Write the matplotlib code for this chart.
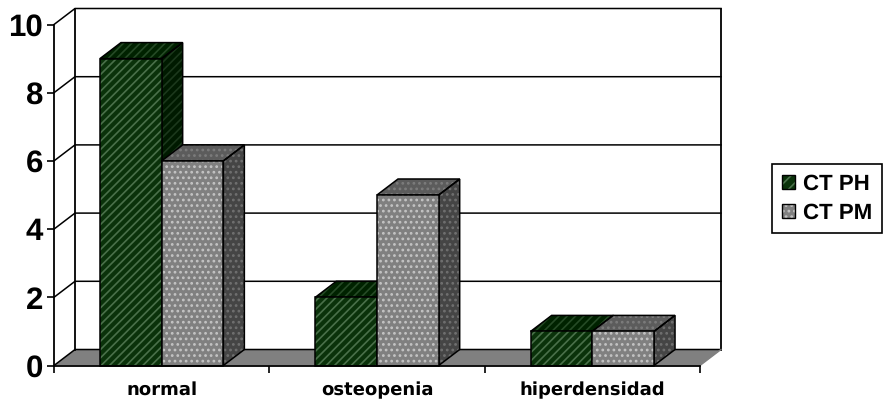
import matplotlib
matplotlib.use("Agg")
import matplotlib.pyplot as plt
from matplotlib.legend_handler import HandlerTuple
from matplotlib.patches import Patch, Polygon

categories = ["normal", "osteopenia", "hiperdensidad"]
ct_ph = [9, 2, 1]
ct_pm = [6, 5, 1]
series_names = ["CT PH", "CT PM"]
y_ticks = [0, 2, 4, 6, 8, 10]

plt.rcParams["font.family"] = ["Liberation Sans", "DejaVu Sans"]
plt.rcParams["font.weight"] = "bold"
plt.rcParams["hatch.linewidth"] = 1.2
plt.rcParams["text.hinting"] = "no_hinting"

W, H = 891, 405
fig = plt.figure(figsize=(W / 100, H / 100), dpi=100)
ax = fig.add_axes([54 / W, 1 - 365.5 / H, 646 / W, 341 / H])
ax.set_xlim(0, 3)
ax.set_ylim(0, 10)

# depth of the fake 3d box, in data units
dx = 21 / (646 / 3)
dy = 16 / 34.1
bar_w = 0.2865
margin = 0.2135

green = dict(front=("#0a320a", "#4a704a", "////"),
             side=("#001a00", "#1c381c", "////"),
             top=("#002200", "#264a26", "////"))
gray = dict(front=("#808080", "#c4c4c4", "..."),
            side=("#454545", "#707070", "..."),
            top=("#5c5c5c", "#7c7c7c", "..."))


def face(points, style, z):
    fc, hc, hatch = style
    ax.add_patch(Polygon(points, closed=True, facecolor=fc, edgecolor=hc, hatch=hatch,
                         linewidth=0, zorder=z, clip_on=False))
    ax.add_patch(Polygon(points, closed=True, fill=False, edgecolor="black",
                         linewidth=1.1, zorder=z + 0.1, clip_on=False))


def bar3d(x, v, style, z):
    face([(x + bar_w, 0), (x + bar_w + dx, dy), (x + bar_w + dx, v + dy), (x + bar_w, v)],
         style["side"], z)
    face([(x, v), (x + dx, v + dy), (x + bar_w + dx, v + dy), (x + bar_w, v)],
         style["top"], z)
    face([(x, 0), (x + bar_w, 0), (x + bar_w, v), (x, v)], style["front"], z + 0.2)


# floor
ax.add_patch(Polygon([(0, 0), (dx, dy), (3 + dx, dy), (3, 0)], closed=True,
                     facecolor="#808080", edgecolor="none", zorder=1, clip_on=False))

# back wall and left wall grid lines
for t in y_ticks:
    ax.plot([0, dx, 3 + dx], [t, t + dy, t + dy], color="black", lw=1.1, zorder=2,
            clip_on=False, solid_joinstyle="miter")
ax.plot([dx, dx], [dy, 10 + dy], color="black", lw=1.3, zorder=2, clip_on=False)
ax.plot([3 + dx, 3 + dx], [dy, 10 + dy], color="black", lw=1.3, zorder=2, clip_on=False)
ax.plot([3, 3 + dx], [0, dy], color="#808080", lw=1, zorder=2, clip_on=False)

for i in range(len(categories)):
    x = i + margin
    bar3d(x, ct_ph[i], green, 3 + i)
    bar3d(x + bar_w, ct_pm[i], gray, 3.4 + i)

for s in ["top", "right"]:
    ax.spines[s].set_visible(False)
for s in ["left", "bottom"]:
    ax.spines[s].set_linewidth(1.3)
    ax.spines[s].set_zorder(10)
ax.patch.set_visible(False)

ax.set_yticks(y_ticks)
ax.tick_params(axis="y", length=5, width=1.2, labelsize=22.5, pad=3)
ax.set_xticks([0, 1, 2, 3])
ax.set_xticklabels([])
ax.set_xticks([0.5, 1.5, 2.5], minor=True)
ax.set_xticklabels(categories, minor=True, fontsize=13, fontweight="bold",
                   family="DejaVu Sans")
ax.tick_params(axis="x", which="major", length=5, width=1.2)
ax.tick_params(axis="x", which="minor", length=0, pad=11.5)

handles = [(Patch(facecolor="#0a320a", edgecolor="#4a704a", hatch="///", linewidth=0),
            Patch(fill=False, edgecolor="black", linewidth=1)),
           (Patch(facecolor="#808080", edgecolor="#c4c4c4", hatch="...", linewidth=0),
            Patch(fill=False, edgecolor="black", linewidth=1))]
leg = fig.legend(handles, series_names, loc="upper left",
                 bbox_to_anchor=(772 / W, 1 - 164 / H), bbox_transform=fig.transFigure,
                 prop=dict(size=16, weight="bold"), fancybox=False, framealpha=1,
                 edgecolor="black", handlelength=0.6, handleheight=0.6, handletextpad=0.35,
                 borderpad=0.45, labelspacing=0.38, borderaxespad=0,
                 handler_map={tuple: HandlerTuple(ndivide=1, pad=0)})
leg.get_frame().set_linewidth(1.2)

fig.savefig("out.png", dpi=100)
